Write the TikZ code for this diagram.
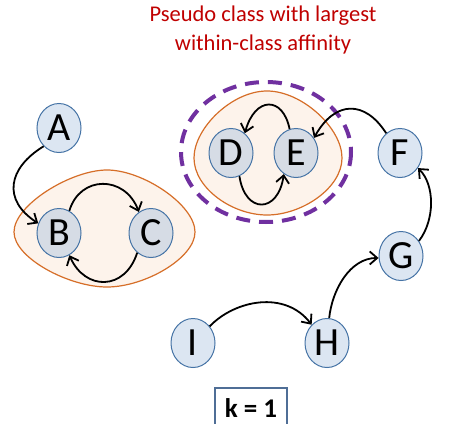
\documentclass[tikz,border=0pt]{standalone}
\usepackage{fontspec}
\setmainfont{Carlito}
\usetikzlibrary{shapes.geometric,arrows.meta}
\definecolor{nodefill}{RGB}{220,230,242}
\definecolor{nodegray}{RGB}{214,220,229}
\definecolor{nodeline}{RGB}{70,116,166}
\definecolor{blobfill}{RGB}{253,243,235}
\definecolor{blobline}{RGB}{214,110,40}
\definecolor{purp}{RGB}{112,48,160}
\definecolor{titlered}{RGB}{192,0,0}
\definecolor{boxline}{RGB}{79,110,150}
\tikzset{
  vnode/.style={ellipse, draw=nodeline, line width=1pt, fill=nodefill, minimum width=44pt, minimum height=49pt, inner sep=0pt, font=\fontsize{40}{40}\selectfont},
  gnode/.style={vnode, fill=nodegray},
  blob/.style={draw=blobline, line width=1.2pt, fill=blobfill},
  edge/.style={line width=1.8pt, -{Straight Barb[length=7.5pt,width=13pt,line width=1.8pt]}},
  ttl/.style={text=titlered, font=\fontsize{22.5}{28}\selectfont, anchor=base, inner sep=0pt},
}
\begin{document}
\begin{tikzpicture}[x=1pt,y=-1pt]
\clip (0,0) rectangle (449,423);
\fill[white] (0,0) rectangle (449,423);
% blobs
\path[blob] (107,170) .. controls (143,170) and (195,205) .. (195,232)
  .. controls (195,258) and (145,287) .. (107,287)
  .. controls (69,287) and (14,258) .. (14,232)
  .. controls (14,205) and (71,170) .. (107,170) -- cycle;
\path[blob] (267,91) .. controls (302,91) and (342,128) .. (342,158)
  .. controls (342,188) and (302,215) .. (267,215)
  .. controls (232,215) and (194,188) .. (194,158)
  .. controls (194,128) and (232,91) .. (267,91) -- cycle;
\draw[purp, line width=4pt, dash pattern=on 14pt off 9pt] (266,152) ellipse [x radius=85, y radius=70];
% title
\node[ttl] (t1) at (263,21) {Pseudo class with largest};
\node[ttl] (t2) at (263,50) {within-class affinity};
% nodes
\node[vnode] (A) at (59,128) {A};
\node[gnode] (B) at (59,233) {B};
\node[gnode] (C) at (151,233) {C};
\node[gnode] (D) at (231,153) {D};
\node[gnode] (E) at (296,153) {E};
\node[vnode] (F) at (400,153) {F};
\node[vnode] (G) at (401,256) {G};
\node[vnode] (H) at (327,343) {H};
\node[vnode] (I) at (193,343) {I};
% edges
\draw[edge] (A.230) .. controls (8,168) and (2,200) .. (B.155);
\draw[edge] (B.65) .. controls (80,175) and (125,175) .. (C.120);
\draw[edge] (C.235) .. controls (125,291) and (85,291) .. (B.295);
\draw[edge] (E.105) .. controls (283,96) and (255,96) .. (D.55);
\draw[edge] (D.290) .. controls (245,214) and (278,214) .. (E.240);
\draw[edge] (F.125) .. controls (365,100) and (335,100) .. (E.40);
\draw[edge] (G.40) .. controls (435,220) and (435,185) .. (F.-40);
\draw[edge] (H.85) .. controls (332,290) and (350,258) .. (G.185);
\draw[edge] (I.45) .. controls (235,300) and (285,290) .. (H.130);
% k box
\node[draw=boxline, line width=1.6pt, minimum width=72pt, minimum height=60pt, anchor=north] (k) at (251,387) {};
\node[font=\bfseries\fontsize{27}{27}\selectfont, anchor=base, inner sep=0pt] (kt) at (251,417) {k = 1};
\end{tikzpicture}
\end{document}
